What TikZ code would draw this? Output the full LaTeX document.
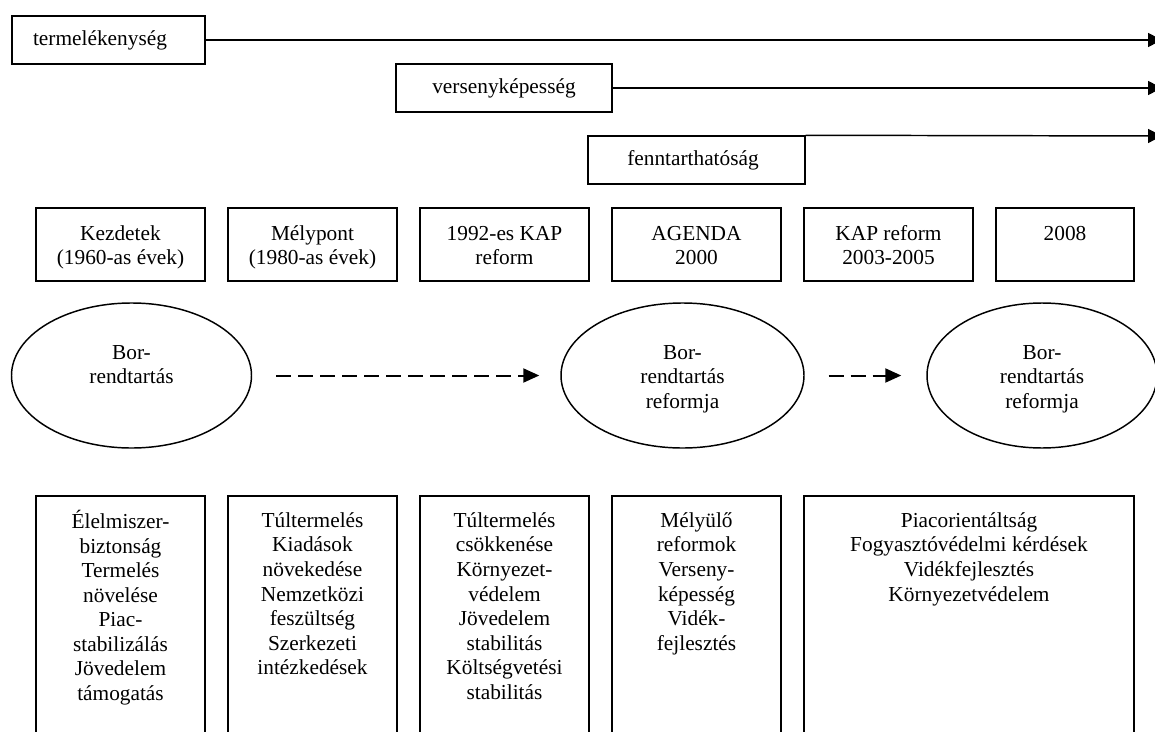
\documentclass[tikz,border=0pt]{standalone}
\usepackage{fontspec}
\setmainfont{Liberation Serif}
\usetikzlibrary{arrows.meta,shapes.geometric}
\begin{document}
\begin{tikzpicture}[x=0.75pt,y=-0.75pt,
  box/.style={draw,line width=1.1pt,rectangle,inner sep=0pt},
  txt/.style={align=center,inner sep=0pt,anchor=north,font=\fontsize{16}{18.4}\selectfont},
  lbl/.style={inner sep=0pt,font=\fontsize{16}{18.4}\selectfont},
  oval/.style={draw,line width=1.1pt,ellipse,inner sep=0pt,minimum height=108.75pt},
  arr/.style={line width=1.1pt,-{Triangle[length=10.5pt,width=10.5pt]}},
  dasharr/.style={line width=1.5pt,dash pattern=on 11.25pt off 5.25pt,-{Triangle[length=12pt,width=10.5pt]}}
]
\useasboundingbox (0,0) rectangle (1155,731);

% top boxes with long arrows
\node[box,minimum width=144.75pt,minimum height=36pt] (term) at (108.5,40) {};
\node[lbl] (termt) at (100,40) {termelékenység};
\node[box,minimum width=162pt,minimum height=36pt] (vers) at (504,88) {};
\node[lbl] (verst) at (504,88) {versenyképesség};
\node[box,minimum width=162.75pt,minimum height=36pt] (fen) at (696.5,160) {};
\node[lbl] (fent) at (693,160) {fenntarthatóság};

\coordinate (e1) at (1162,40);
\coordinate (e2) at (1162,88);
\coordinate (e3) at (1162,136);
\draw[arr] (term.east) -- (e1);
\draw[arr] (vers.east) -- (e2);
\draw[arr] (fen.north east) -- (e3);

% period boxes
\node[box,minimum width=126.75pt,minimum height=54.75pt] (k1) at (120.5,244.5) {};
\node[box,minimum width=126.75pt,minimum height=54.75pt] (k2) at (312.5,244.5) {};
\node[box,minimum width=126.75pt,minimum height=54.75pt] (k3) at (504.5,244.5) {};
\node[box,minimum width=126.75pt,minimum height=54.75pt] (k4) at (696.5,244.5) {};
\node[box,minimum width=126.75pt,minimum height=54.75pt] (k5) at (888.5,244.5) {};
\node[box,minimum width=103.5pt,minimum height=54.75pt] (k6) at (1065,244.5) {};
\node[txt] (k1t) at (120.5,223) {\strut Kezdetek\\(1960-as évek)};
\node[txt] (k2t) at (312.5,223) {\strut Mélypont\\(1980-as évek)};
\node[txt] (k3t) at (504.5,223) {\strut 1992-es KAP\\reform};
\node[txt] (k4t) at (696.5,223) {\strut AGENDA\\2000};
\node[txt] (k5t) at (888.5,223) {\strut KAP reform\\2003-2005};
\node[txt] (k6t) at (1065,223) {\strut 2008};

% ellipses
\node[oval,minimum width=180pt] (el1) at (131.5,375.5) {};
\node[oval,minimum width=182.25pt] (el2) at (682.5,375.5) {};
\node[oval,minimum width=172.5pt] (el3) at (1042,375.5) {};
\node[txt] (el1t) at (131.5,342) {\strut Bor-\\rendtartás};
\node[txt] (el2t) at (682.5,342) {\strut Bor-\\rendtartás\\reformja};
\node[txt] (el3t) at (1042,342) {\strut Bor-\\rendtartás\\reformja};
\draw[dasharr,shorten <=18pt,shorten >=15.75pt] (el1) -- (el2);
\draw[dasharr,shorten <=18pt,shorten >=18.75pt] (el2) -- (el3);

% bottom boxes
\node[box,minimum width=126.75pt,minimum height=198pt] (b1) at (120.5,628) {};
\node[box,minimum width=126.75pt,minimum height=198pt] (b2) at (312.5,628) {};
\node[box,minimum width=126.75pt,minimum height=198pt] (b3) at (504.5,628) {};
\node[box,minimum width=126.75pt,minimum height=198pt] (b4) at (696.5,628) {};
\node[box,minimum width=247.5pt,minimum height=198pt] (b5) at (969,628) {};
\node[txt] (b1t) at (120.5,510) {\strut Élelmiszer-\\biztonság\\Termelés\\növelése\\Piac-\\stabilizálás\\Jövedelem\\támogatás};
\node[txt] (b2t) at (312.5,510) {\strut Túltermelés\\Kiadások\\növekedése\\Nemzetközi\\feszültség\\Szerkezeti\\intézkedések};
\node[txt] (b3t) at (504.5,510) {\strut Túltermelés\\csökkenése\\Környezet-\\védelem\\Jövedelem\\stabilitás\\Költségvetési\\stabilitás};
\node[txt] (b4t) at (696.5,510) {\strut Mélyülő\\reformok\\Verseny-\\képesség\\Vidék-\\fejlesztés};
\node[txt] (b5t) at (969,510) {\strut Piacorientáltság\\Fogyasztóvédelmi kérdések\\Vidékfejlesztés\\Környezetvédelem};
\end{tikzpicture}
\end{document}
